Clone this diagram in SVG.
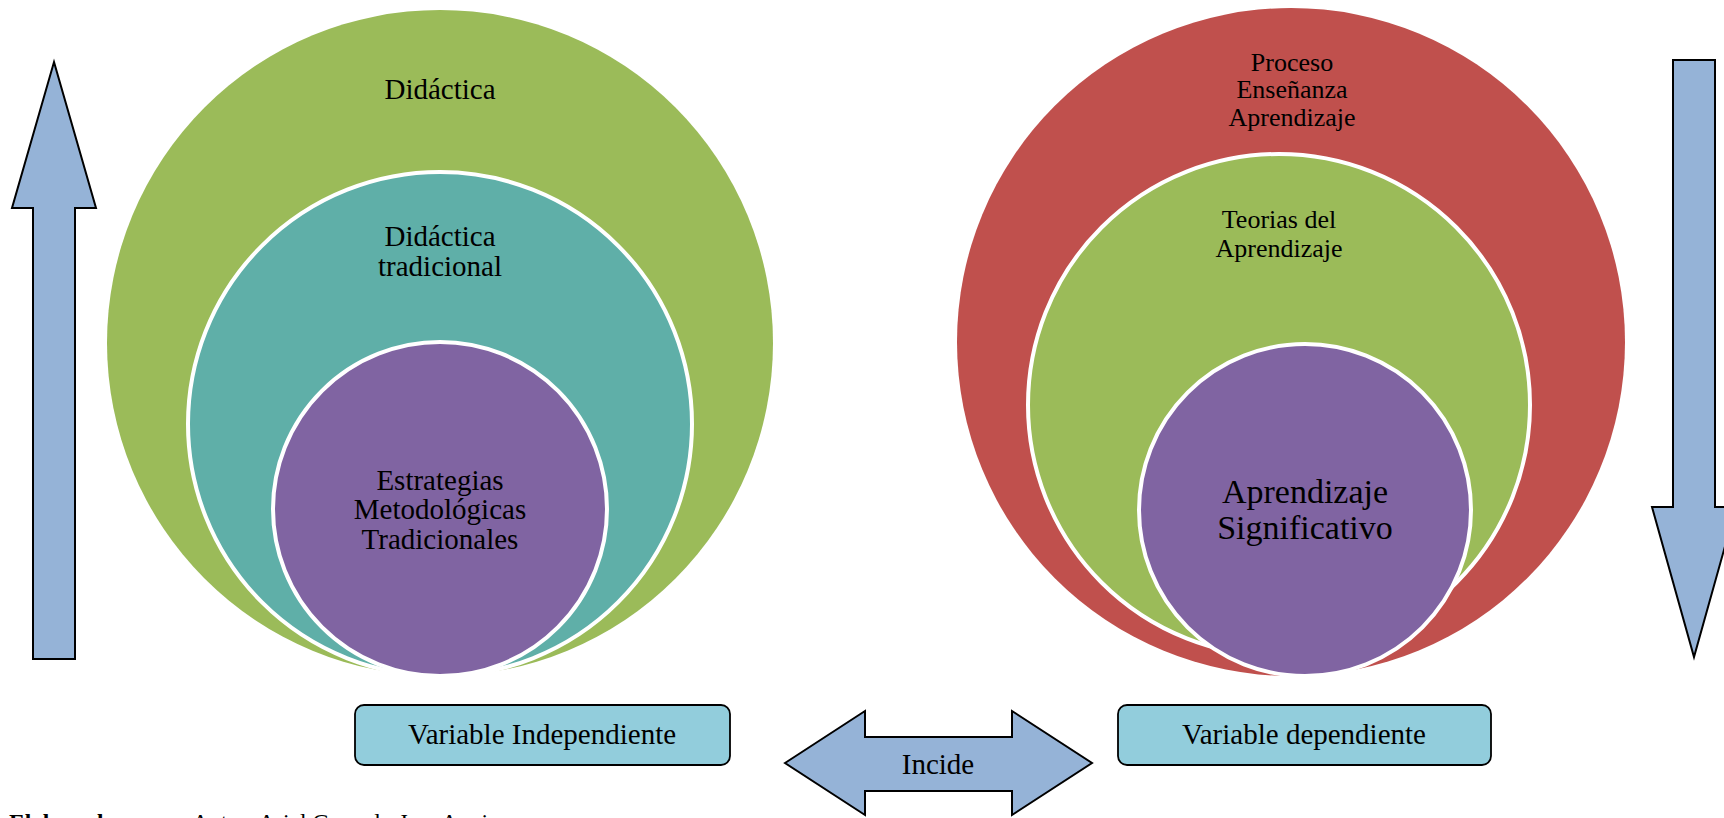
<svg xmlns="http://www.w3.org/2000/svg" width="1724" height="818" viewBox="0 0 1724 818">
<style>
.t{font-family:"Liberation Serif","Times New Roman",serif;fill:#000;text-anchor:middle}
.c{stroke:#fff;stroke-width:4}
.arr{fill:#95B3D7;stroke:#000;stroke-width:2;stroke-linejoin:miter}
.box{fill:#92CDDC;stroke:#000;stroke-width:1.8}
</style>
<rect width="1724" height="818" fill="#fff"/>
<g id="left-nest">
  <g id="n-didactica">
    <circle cx="440" cy="343" r="333" fill="#9BBB59"/>
    <text class="t" x="440" y="99" font-size="29">Didáctica</text>
  </g>
  <g id="n-didactica-tradicional">
    <circle class="c" cx="440" cy="424" r="252" fill="#5FAFA8"/>
    <text class="t" x="440" y="246" font-size="29">Didáctica</text>
    <text class="t" x="440" y="276" font-size="29">tradicional</text>
  </g>
  <g id="n-estrategias">
    <circle class="c" cx="440" cy="509" r="167" fill="#8064A2"/>
    <text class="t" x="440" y="490" font-size="29">Estrategias</text>
    <text class="t" x="440" y="519" font-size="29">Metodológicas</text>
    <text class="t" x="440" y="549" font-size="29">Tradicionales</text>
  </g>
</g>
<g id="right-nest">
  <g id="n-proceso">
    <circle cx="1291" cy="342" r="334" fill="#C0504D"/>
    <text class="t" x="1292" y="71" font-size="26">Proceso</text>
    <text class="t" x="1292" y="98" font-size="26">Enseñanza</text>
    <text class="t" x="1292" y="126" font-size="26">Aprendizaje</text>
  </g>
  <g id="n-teorias">
    <circle class="c" cx="1279" cy="405" r="251" fill="#9BBB59"/>
    <text class="t" x="1279" y="228" font-size="26">Teorias del</text>
    <text class="t" x="1279" y="257" font-size="26">Aprendizaje</text>
  </g>
  <g id="n-aprendizaje">
    <circle class="c" cx="1305" cy="510" r="166" fill="#8064A2"/>
    <text class="t" x="1305" y="503" font-size="34">Aprendizaje</text>
    <text class="t" x="1305" y="539" font-size="34">Significativo</text>
  </g>
</g>
<g id="n-var-indep">
  <rect class="box" x="355" y="705" width="375" height="60" rx="9"/>
  <text class="t" x="542" y="744" font-size="29">Variable Independiente</text>
</g>
<g id="n-var-dep">
  <rect class="box" x="1118" y="705" width="373" height="60" rx="9"/>
  <text class="t" x="1304" y="744" font-size="29">Variable dependiente</text>
</g>
<g id="connectors">
  <path id="arrow-up" class="arr" d="M54,62 L96,208 L75,208 L75,659 L33,659 L33,208 L12,208 Z"/>
  <path id="arrow-down" class="arr" d="M1673,60 L1715,60 L1715,507 L1736,507 L1694,657 L1652,507 L1673,507 Z"/>
  <g id="arrow-incide">
    <path class="arr" d="M785,763 L865,711 L865,737 L1012,737 L1012,711 L1092,763 L1012,815 L1012,791 L865,791 L865,815 Z"/>
    <text class="t" x="938" y="774" font-size="29">Incide</text>
  </g>
</g>
<g id="caption">
  <text x="9" y="830" font-family="'Liberation Serif','Times New Roman',serif" font-size="23.6"><tspan font-weight="bold">Elaborado por:</tspan><tspan x="192">Autor: Ariel Gonzalo Jara Aquino</tspan></text>
</g>
</svg>
